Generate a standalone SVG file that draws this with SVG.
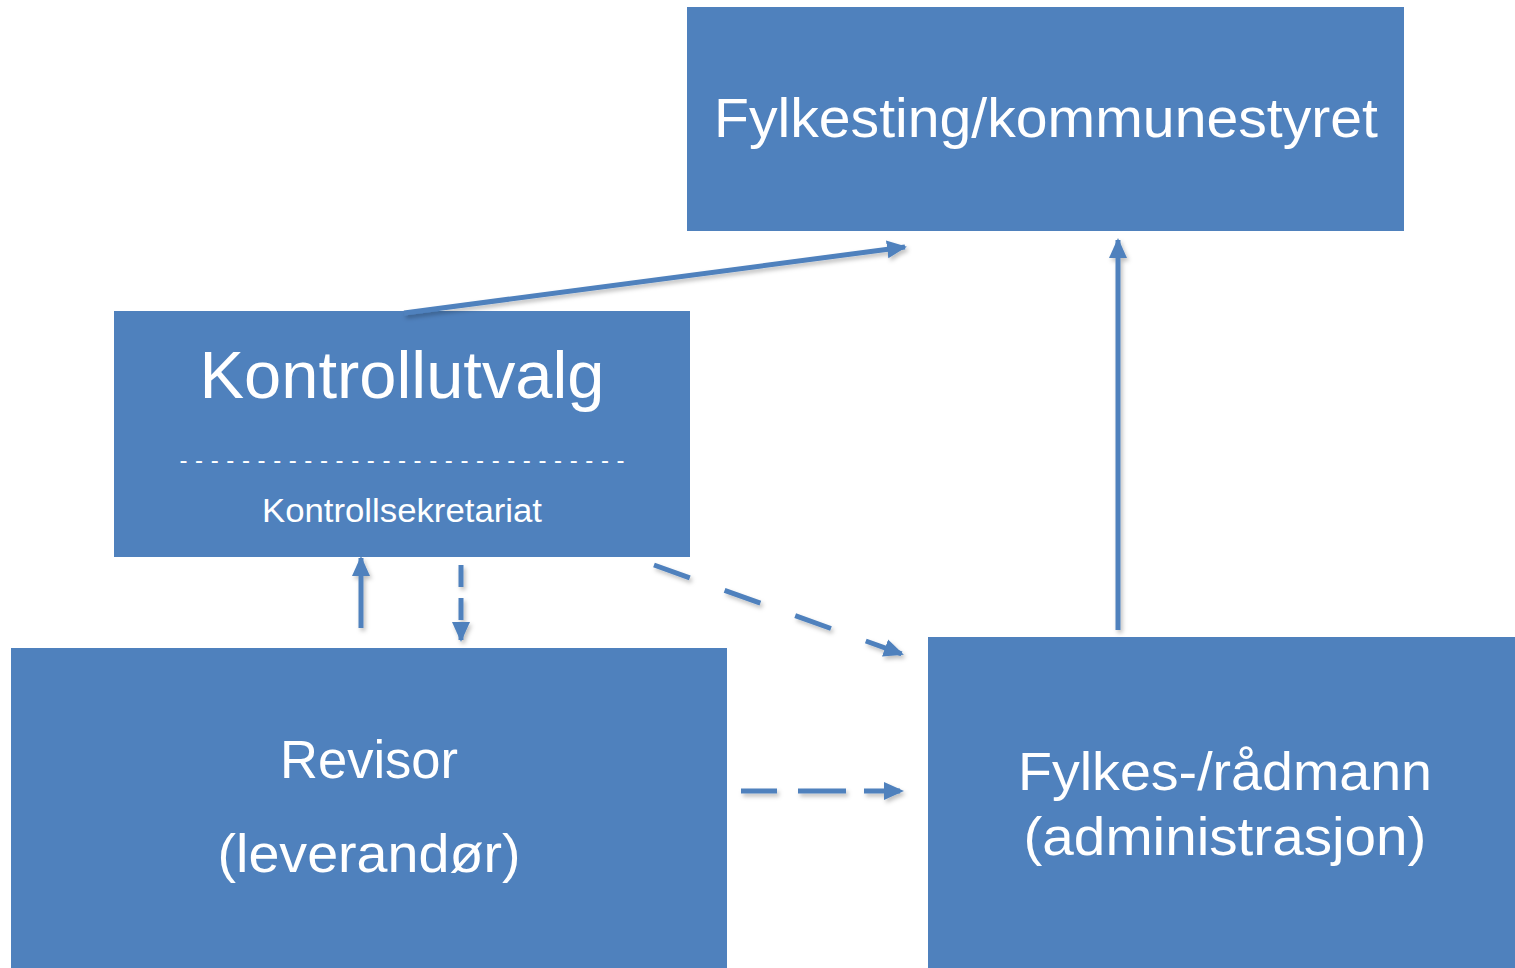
<svg xmlns="http://www.w3.org/2000/svg" width="1515" height="968" viewBox="0 0 1515 968">
<style>
.box{fill:#4F81BD;}
.t{fill:#FFFFFF;font-family:"Liberation Sans","Open Sans",sans-serif;text-anchor:middle;}
.c{stroke:#4F81BD;stroke-width:5;fill:none;filter:url(#sh);}
</style>
<defs>
<marker id="ah" markerUnits="userSpaceOnUse" markerWidth="22" markerHeight="20" refX="18" refY="10" orient="auto">
<path d="M0,1 L20,10 L0,19 Z" fill="#4F81BD"/>
</marker>
<filter id="sh" filterUnits="userSpaceOnUse" x="0" y="0" width="1515" height="968">
<feDropShadow dx="2" dy="3" stdDeviation="2" flood-color="#000" flood-opacity="0.25"/>
</filter>
</defs>
<rect width="1515" height="968" fill="#FFFFFF"/>
<g id="fylkesting">
<rect class="box" x="687" y="7" width="717" height="224"/>
<text class="t" x="1046" y="137" font-size="56" textLength="664" lengthAdjust="spacingAndGlyphs">Fylkesting/kommunestyret</text>
</g>
<g id="kontrollutvalg">
<rect class="box" x="114" y="311" width="576" height="246"/>
<text class="t" x="402" y="398" font-size="66" textLength="405" lengthAdjust="spacingAndGlyphs">Kontrollutvalg</text>
<text class="t" x="402" y="468" font-size="24" textLength="445" lengthAdjust="spacing">- - - - - - - - - - - - - - - - - - - - - -   - - - -   - - -</text>
<text class="t" x="402" y="522" font-size="33" textLength="280" lengthAdjust="spacingAndGlyphs">Kontrollsekretariat</text>
</g>
<g id="revisor">
<rect class="box" x="11" y="648" width="716" height="320"/>
<text class="t" x="369" y="778" font-size="53" textLength="178" lengthAdjust="spacingAndGlyphs">Revisor</text>
<text class="t" x="369" y="872" font-size="53" textLength="303" lengthAdjust="spacingAndGlyphs">(leverandør)</text>
</g>
<g id="radmann">
<rect class="box" x="928" y="637" width="587" height="331"/>
<text class="t" x="1225" y="790" font-size="53" textLength="414" lengthAdjust="spacingAndGlyphs">Fylkes-/rådmann</text>
<text class="t" x="1225" y="855" font-size="53" textLength="403" lengthAdjust="spacingAndGlyphs">(administrasjon)</text>
</g>
<g id="connectors">
<line class="c" x1="404" y1="313" x2="905" y2="247" marker-end="url(#ah)"/>
<line class="c" x1="1118" y1="630" x2="1118" y2="240" marker-end="url(#ah)"/>
<line class="c" x1="361" y1="628" x2="361" y2="558" marker-end="url(#ah)"/>
<line class="c" x1="461" y1="565" x2="461" y2="640" stroke-dasharray="22 11" marker-end="url(#ah)"/>
<line class="c" x1="654" y1="565" x2="902" y2="654" stroke-dasharray="38 37" marker-end="url(#ah)"/>
<line class="c" x1="741" y1="791" x2="902" y2="791" stroke-dasharray="36 21 48 18" marker-end="url(#ah)"/>
</g>
</svg>
